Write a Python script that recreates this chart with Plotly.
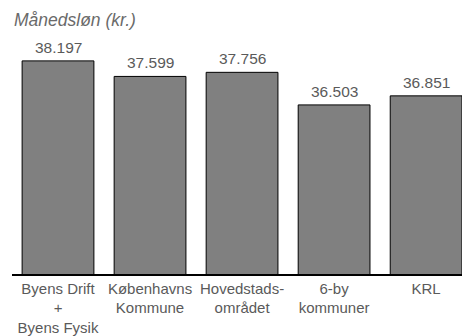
import plotly.graph_objects as go

# Monthly salary by organisation (DKK)
categories = [
    "Byens Drift<br>+<br>Byens Fysik",
    "Københavns<br>Kommune",
    "Hovedstads-<br>området",
    "6-by<br>kommuner",
    "KRL",
]
salaries = [38197, 37599, 37756, 36503, 36851]

FONT = "Liberation Sans, Arial, sans-serif"
GREY_TEXT = "#5a5a5a"

x_pos = list(range(len(categories)))

fig = go.Figure(
    go.Bar(
        x=x_pos,
        y=salaries,
        marker=dict(color="#808080", line=dict(color="#000000", width=1)),
        width=0.78,
        cliponaxis=False,
    )
)

# value labels above each bar, Danish thousands separator
for xi, v in zip(x_pos, salaries):
    fig.add_annotation(
        x=xi,
        y=v,
        xref="x",
        yref="y",
        text=f"{v:,}".replace(",", "."),
        showarrow=False,
        yanchor="bottom",
        yshift=3,
        font=dict(family=FONT, size=15.5, color=GREY_TEXT),
    )

fig.add_annotation(
    text="<i>Månedsløn (kr.)</i>",
    xref="paper",
    yref="paper",
    x=0,
    y=1,
    xanchor="left",
    yanchor="bottom",
    xshift=0,
    yshift=8,
    showarrow=False,
    font=dict(family=FONT, size=17.5, color="#6a6a6a"),
)

fig.update_layout(
    width=462,
    height=336,
    margin=dict(l=12, r=0, t=40, b=62, autoexpand=False),
    paper_bgcolor="white",
    plot_bgcolor="white",
    showlegend=False,
    font=dict(family=FONT, size=15, color=GREY_TEXT),
    xaxis=dict(
        range=[-0.5, 4.39],
        tickmode="array",
        tickvals=x_pos,
        ticktext=categories,
        showgrid=False,
        zeroline=False,
        showline=True,
        linecolor="#000000",
        linewidth=1.5,
        ticks="",
        ticklabelstandoff=0,
        automargin=False,
        tickfont=dict(family=FONT, size=15, color=GREY_TEXT),
        fixedrange=True,
    ),
    yaxis=dict(
        range=[30000, 39000],
        visible=False,
        showgrid=False,
        zeroline=False,
        fixedrange=True,
    ),
)

fig.write_html("out.html")
